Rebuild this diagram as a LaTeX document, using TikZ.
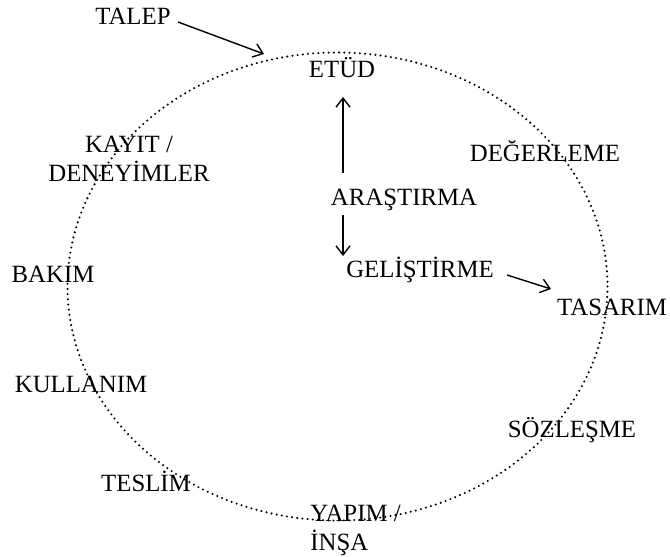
\documentclass[tikz,border=0pt]{standalone}
\usepackage{fontspec}
\setmainfont{Liberation Serif}
\usetikzlibrary{arrows.meta}
\begin{document}
\begin{tikzpicture}[x=0.5pt,y=-0.5pt,
  lbl/.style={inner sep=0pt,anchor=base,font=\fontsize{12.4}{14.5}\selectfont},
  lbll/.style={inner sep=0pt,anchor=base west,font=\fontsize{12.4}{14.5}\selectfont,align=left},
  arr/.style={line width=0.7pt,-{Straight Barb[length=4.5pt,width=7pt]}},
  cyc/.style={line width=1.15pt,dash pattern=on 0pt off 2.6pt,line cap=round}]
\useasboundingbox (0,0) rectangle (670,557);
\draw[cyc] (337.5,286.5) ellipse [x radius=270, y radius=234];
\node[lbl] (talep) at (133,25) {TALEP};
\node[lbl] (etud) at (342,77) {ETÜD};
\node[lbl] (deg) at (545,161) {DEĞERLEME};
\node[lbl,align=center] (kayit) at (129,181) {KAYIT /\\DENEYİMLER};
\node[lbl] (aras) at (404,205) {ARAŞTIRMA};
\node[lbl] (gel) at (420,277) {GELİŞTİRME};
\node[lbl] (bakim) at (53,282) {BAKIM};
\node[lbl] (tasarim) at (612,315) {TASARIM};
\node[lbl] (kull) at (81,392) {KULLANIM};
\node[lbl] (soz) at (572,437) {SÖZLEŞME};
\node[lbl] (teslim) at (146,491) {TESLİM};
\node[lbll] (yapim) at (310,550) {YAPIM /\\İNŞA};
\coordinate (talepA) at (178,22);
\coordinate (talepB) at (264,54);
\coordinate (upA) at (343,173);
\coordinate (upB) at (343,97);
\coordinate (dnA) at (343,215);
\coordinate (dnB) at (343,256);
\coordinate (gelA) at (507,275);
\coordinate (gelB) at (551,289);
\draw[arr] (talepA) -- (talepB);
\draw[arr] (upA) -- (upB);
\draw[arr] (dnA) -- (dnB);
\draw[arr] (gelA) -- (gelB);
\end{tikzpicture}
\end{document}
